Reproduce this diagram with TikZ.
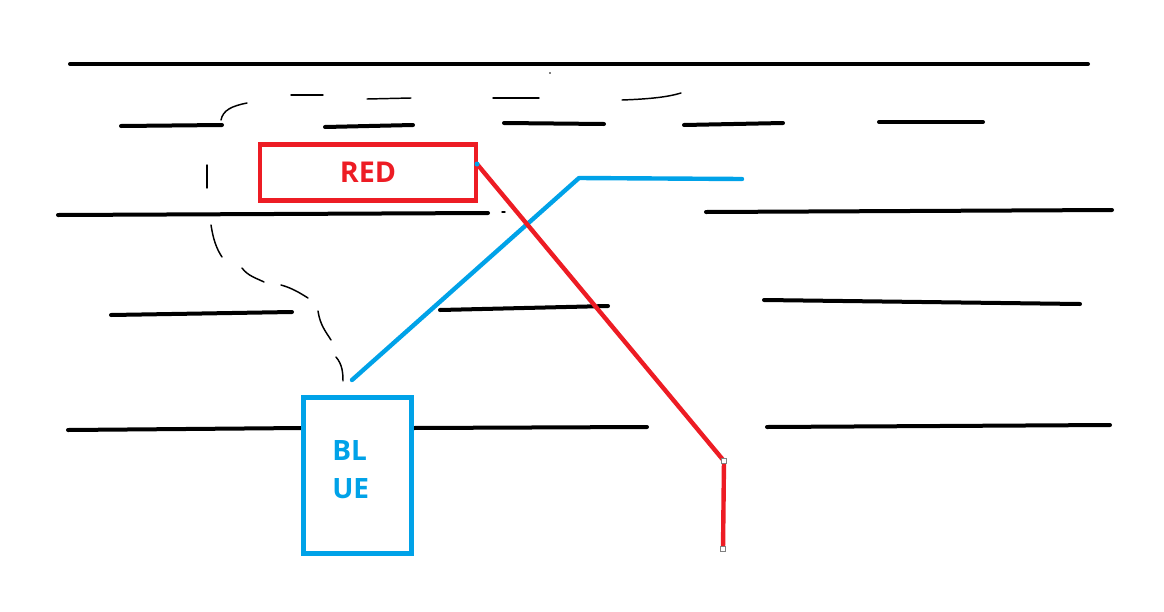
\documentclass[tikz,border=0pt]{standalone}
\usepackage{fontspec}
\setmainfont{Open Sans}
\definecolor{pred}{HTML}{ED1C24}
\definecolor{pblue}{HTML}{00A2E8}
\begin{document}
\begin{tikzpicture}[x=0.75pt,y=-0.75pt,
  road/.style={line width=3pt,line cap=round,black},
  thin/.style={line width=1.1pt,line cap=round,black},
  redbox/.style={draw=pred,line width=3.2pt,minimum width=162pt,minimum height=42pt,inner sep=0pt,
     font=\bfseries\fontsize{21.5}{24}\selectfont,text=pred},
  bluebox/.style={draw=pblue,line width=3.2pt,minimum width=81pt,minimum height=117pt,inner sep=0pt},
  bluetext/.style={font=\bfseries\fontsize{21}{24}\selectfont,text=pblue,anchor=west,inner sep=0pt},
  redline/.style={line width=3.3pt,pred},
  blueline/.style={line width=3.3pt,pblue,line cap=round},
  mark box/.style={draw=gray,fill=white,line width=0.6pt,minimum size=4pt,inner sep=0pt}]
\useasboundingbox (0,0) rectangle (1164,611);
% lanes
\draw[road] (70,64) -- (1088,64);
\fill (550,73) circle (0.8);
\draw[road] (121,126) -- (222,125);
\draw[road] (325,127) -- (413,125);
\draw[road] (504,123) -- (604,124);
\draw[road] (684,125) -- (783,123);
\draw[road] (879,122) -- (983,122);
\draw[road] (58,215) -- (488,213);
\draw[road] (706,212) -- (1112,210);
\draw[road] (111,315) -- (292,312);
\draw[road] (440,310) -- (608,306);
\draw[road] (764,300) -- (1080,304);
\draw[road] (68,430) -- (302,428);
\draw[road] (413,428) -- (647,427);
\draw[road] (767,427) -- (1110,425);
\draw[thin] (502,212) -- (505,212);
% thin dashes
\draw[thin] (221,120) .. controls (223,110) and (232,106) .. (247,103);
\draw[thin] (291,95) -- (323,95);
\draw[thin] (367,99) -- (411,98);
\draw[thin] (493,98) -- (539,98);
\draw[thin] (622,100) .. controls (650,99) and (668,97) .. (681,93);
\draw[thin] (207,165) -- (207,188);
\draw[thin] (211,225) .. controls (213,238) and (216,248) .. (222,257);
\draw[thin] (242,268) .. controls (248,276) and (256,278) .. (264,282);
\draw[thin] (281,285) .. controls (292,288) and (300,293) .. (308,298);
\draw[thin] (318,311) .. controls (320,325) and (326,332) .. (331,340);
\draw[thin] (336,357) .. controls (342,364) and (343,372) .. (343,381);
% boxes
\node[redbox] (red) at (368,172.5) {RED};
\node[bluebox] (blue) at (357.5,475.5) {};
\node[bluetext] (bl) at (332,450) {BL};
\node[bluetext] (ue) at (332,489) {UE};
% blue line
\coordinate (b0) at (352,380);
\coordinate (b1) at (579,178);
\coordinate (b2) at (742,179);
\draw[blueline,line join=round] (b0) -- (b1) -- (b2);
% red line
\coordinate (r0) at (477,164);
\coordinate (r1) at (724,461);
\coordinate (r2) at (723,549);
\draw[redline] (r0) -- (r1) -- (r2);
\fill[pblue] (r0) circle (2.5);
\node[mark box] (m1) at (r1) {};
\node[mark box] (m2) at (r2) {};
\end{tikzpicture}
\end{document}
